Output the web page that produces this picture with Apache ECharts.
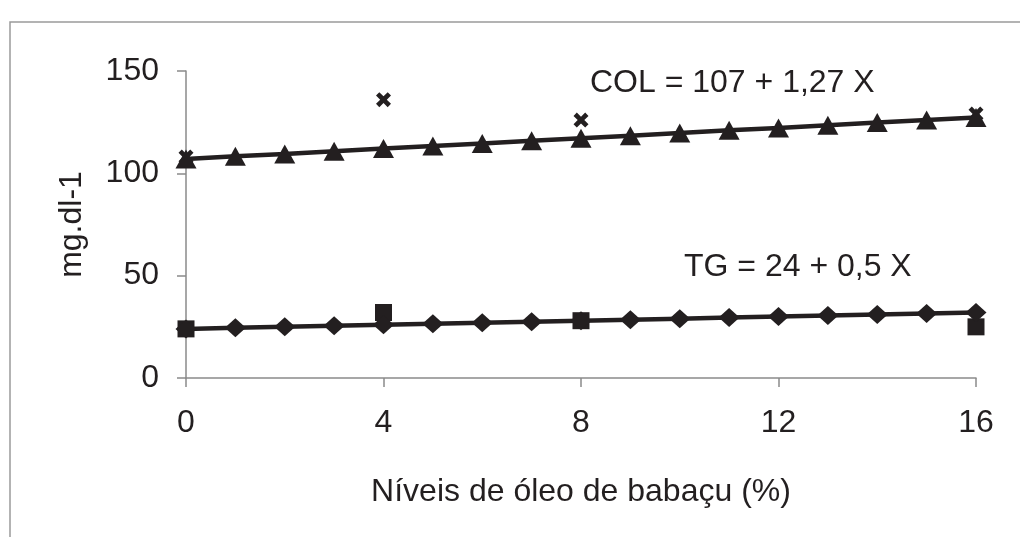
<!DOCTYPE html>
<html>
<head>
<meta charset="utf-8">
<script src="https://cdn.jsdelivr.net/npm/echarts@6/dist/echarts.min.js"></script>
<style>html,body{margin:0;padding:0;background:#fff;}#c{width:1020px;height:537px;}</style>
</head>
<body>
<div id="c"></div>
<script>
// Data
var levels = [0,1,2,3,4,5,6,7,8,9,10,11,12,13,14,15,16];
var colFit = [107,108.3,109.5,110.8,112.1,113.4,114.6,115.9,117.2,118.4,119.7,121,122.2,123.5,124.8,126.1,127.3];
var tgFit = [24,24.5,25,25.5,26,26.5,27,27.5,28,28.5,29,29.5,30,30.5,31,31.5,32];
var obsLevels = [0,4,8,16];
var colObs = [108,136,126,129];
var tgObs = [24,32,28,25];
var xTicks = [0,4,8,12,16];
var yTicks = [0,50,100,150];
var colLabel = 'COL = 107 + 1,27 X';
var tgLabel = 'TG = 24 + 0,5 X';
var xName = 'Níveis de óleo de babaçu (%)';
var yName = 'mg.dl-1';

function pairs(xs, ys){ return xs.map(function(x,i){ return [x, ys[i]]; }); }

var ink = '#231f20';
var font = 'Liberation Sans, Arial, sans-serif';
var crossPath = 'path://M0,2.2 L2.2,0 L5,2.8 L7.8,0 L10,2.2 L7.2,5 L10,7.8 L7.8,10 L5,7.2 L2.2,10 L0,7.8 L2.8,5 Z';

var chart = echarts.init(document.getElementById('c'), null, {renderer:'canvas'});
chart.setOption({
  animation: false,
  backgroundColor: '#fff',
  grid: {left:186, right:44, top:71, bottom:159, containLabel:false},
  xAxis: {
    type:'value', min:xTicks[0], max:xTicks[xTicks.length-1], interval:4,
    axisLine:{show:true, lineStyle:{color:'#8a8a8a', width:1.5}},
    axisTick:{show:true, length:9, lineStyle:{color:'#8a8a8a', width:1.5}},
    splitLine:{show:false},
    axisLabel:{color:ink, fontSize:32, fontFamily:font, margin:29},
    name: xName, nameLocation:'middle', nameGap:98,
    nameTextStyle:{color:ink, fontSize:32, fontFamily:font}
  },
  yAxis: {
    type:'value', min:yTicks[0], max:yTicks[yTicks.length-1], interval:50,
    axisLine:{show:true, lineStyle:{color:'#8a8a8a', width:1.5}},
    axisTick:{show:true, length:9, lineStyle:{color:'#8a8a8a', width:1.5}},
    splitLine:{show:false},
    axisLabel:{color:ink, fontSize:32, fontFamily:font, margin:27},
    name: yName, nameLocation:'middle', nameGap:98, nameRotate:90,
    nameTextStyle:{color:ink, fontSize:32, fontFamily:font}
  },
  series: [
    {type:'scatter', data:pairs(obsLevels, colObs), symbol:crossPath, symbolSize:15,
     itemStyle:{color:ink, opacity:1}, z:2},
    {type:'scatter', data:pairs(obsLevels, tgObs), symbol:'rect', symbolSize:17,
     itemStyle:{color:ink, opacity:1}, z:2},
    {type:'line', data:pairs(levels, colFit), symbol:'triangle', symbolSize:[21,19],
     lineStyle:{color:ink, width:4.5}, itemStyle:{color:ink, opacity:1}, z:3},
    {type:'line', data:pairs(levels, tgFit), symbol:'diamond', symbolSize:[21,19],
     lineStyle:{color:ink, width:4.5}, itemStyle:{color:ink, opacity:1}, z:3}
  ],
  graphic: [
    {type:'rect', shape:{x:10, y:22, width:1100, height:700}, style:{fill:null, stroke:'#9a9a9a', lineWidth:1.5}, z:0, silent:true},
    {type:'text', left:590, top:67, style:{text:colLabel, fill:ink, fontSize:32, fontFamily:font}},
    {type:'text', left:684, top:251, style:{text:tgLabel, fill:ink, fontSize:32, fontFamily:font}}
  ]
});
</script>
</body>
</html>
